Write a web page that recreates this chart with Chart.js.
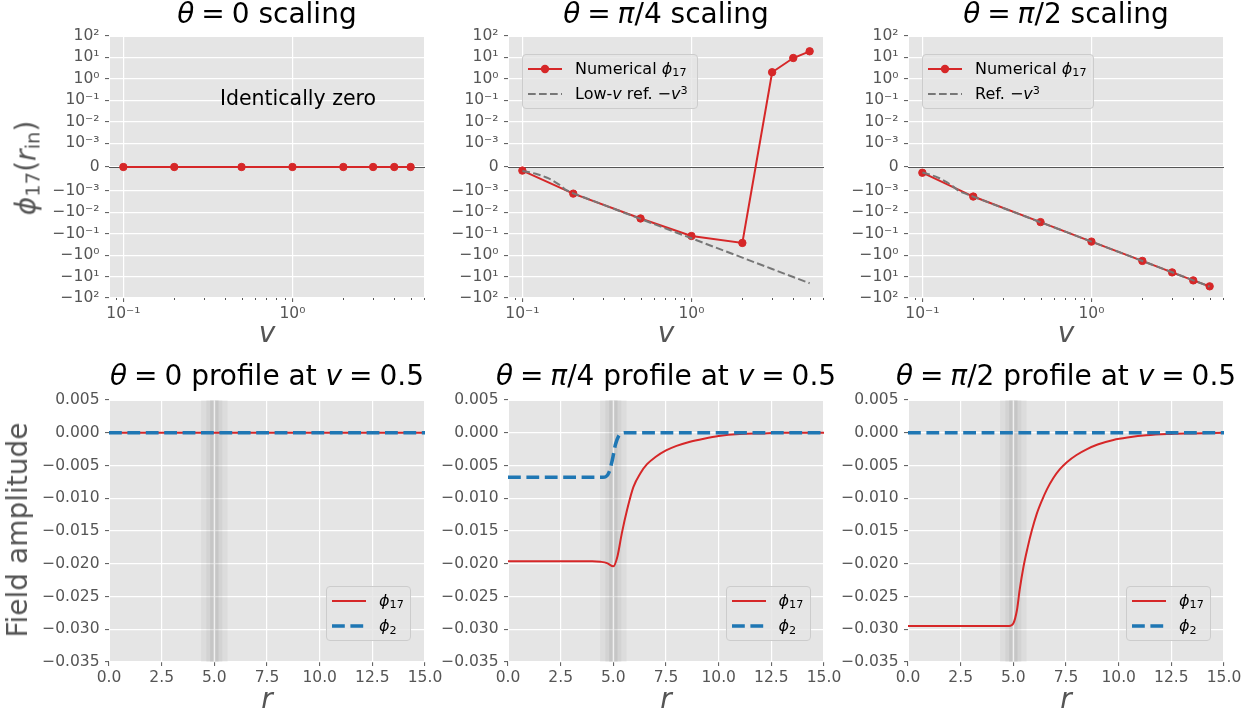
<!DOCTYPE html>
<html><head><meta charset="utf-8">
<script src="https://cdn.jsdelivr.net/npm/chart.js@4.4.1/dist/chart.umd.min.js"></script>
<style>
html,body{margin:0;padding:0;background:#fff;}
#wrap{position:relative;width:1256px;height:717px;overflow:hidden;font-family:"DejaVu Sans",sans-serif;background:#fff;}
#wrap canvas{position:absolute;}
.txt{position:absolute;white-space:nowrap;}
.eq{margin:0 -2px;}
.sub{font-size:0.7em;position:relative;top:0.22em;}
.sup{font-size:0.7em;position:relative;top:-0.45em;}
.lg{position:absolute;box-sizing:border-box;background:rgba(229,229,229,0.8);border:1px solid #cccccc;border-radius:4px;}
.lg svg{position:absolute;overflow:visible;}
.lg .lt{position:absolute;font-size:16px;line-height:16px;color:#000;white-space:nowrap;}
</style></head><body><div id="wrap"></div>
<script>
// ---------------- DATA ----------------
const vValues = [0.1, 0.2, 0.5, 1, 2, 3, 4, 5];
const phi17Theta0   = [0, 0, 0, 0, 0, 0, 0, 0];
const phi17ThetaPi4 = [-0.00015, -0.00135, -0.0195, -0.128, -0.27, 2.04, 9.4, 19.3];
const phi17ThetaPi2 = [-0.00024, -0.00185, -0.0288, -0.234, -1.86, -6.4, -15.1, -28.6];

const refV   = [0.1, 0.11, 0.12, 0.13, 0.14, 0.15, 0.165, 0.18, 0.2, 0.25, 0.3, 0.4, 0.5, 0.7, 1, 1.5, 2, 3, 4, 5];
const refPi4 = [-0.000164, -0.000218, -0.000283, -0.00036, -0.00045, -0.000554, -0.000737, -0.000956, -0.00131, -0.00256, -0.00443, -0.0105, -0.0205, -0.0563, -0.164, -0.554, -1.31, -4.43, -10.5, -20.5];
const refPi2 = [-0.000234, -0.000311, -0.000404, -0.000514, -0.000642, -0.00079, -0.00105, -0.00136, -0.00187, -0.00366, -0.00632, -0.015, -0.0293, -0.0803, -0.234, -0.79, -1.87, -6.32, -15.0, -29.3];

const symlogTickValues = [100, 10, 1, 0.1, 0.01, 0.001, 0, -0.001, -0.01, -0.1, -1, -10, -100];
const symlogTickLabels = ['10²', '10¹', '10⁰', '10⁻¹', '10⁻²', '10⁻³', '0', '−10⁻³', '−10⁻²', '−10⁻¹', '−10⁰', '−10¹', '−10²'];
const logTickValues = [0.1, 1];
const logTickLabels = ['10⁻¹', '10⁰'];
const logMinorTicks = [0.09, 0.2, 0.3, 0.4, 0.5, 0.6, 0.7, 0.8, 0.9, 2, 3, 4, 5, 6];

const rFlat = [0, 15];
const zeroFlat = [0, 0];

const rPi4Phi17 = [0, 2, 4, 4.4, 4.7, 5.0, 5.2, 5.4, 5.65, 5.95, 6.3, 6.6, 7.0, 7.5, 8.0, 8.6, 9.3, 10, 11, 12, 13, 15];
const phi17ProfPi4 = [-0.0196, -0.0196, -0.0196, -0.0197, -0.0199, -0.0204, -0.0188, -0.0154, -0.0118, -0.0083, -0.0061, -0.0048, -0.0037, -0.0027, -0.002, -0.0014, -0.0009, -0.0005, -0.0002, -0.0001, 0, 0];
const rPi4Phi2 = [0, 4.5, 4.65, 4.8, 4.95, 5.1, 5.25, 5.4, 5.6, 6, 15];
const phi2ProfPi4 = [-0.0068, -0.0068, -0.0067, -0.006, -0.0042, -0.0018, -0.0005, -0.0001, 0, 0, 0];

const rPi2Phi17 = [0, 4.8, 5.0, 5.17, 5.3, 5.48, 5.68, 5.88, 6.1, 6.35, 6.6, 6.9, 7.2, 7.54, 8, 8.5, 9, 9.75, 10.5, 11.3, 12.3, 13.5, 15];
const phi17ProfPi2 = [-0.0295, -0.0295, -0.0291, -0.0271, -0.024, -0.0205, -0.0175, -0.0149, -0.0125, -0.0104, -0.0086, -0.0069, -0.0056, -0.0045, -0.0034, -0.0025, -0.0018, -0.0011, -0.0007, -0.0004, -0.0002, -0.0001, 0];

const wallCenter = 5.0;

// ---------------- STYLE ----------------
const RED = '#d62728', BLUE = '#1f77b4', GRAY = '#777777';
const wrap = document.getElementById('wrap');
const tickFont = {family: 'DejaVu Sans', size: 15.5};
const LINTHRESH = 1e-3, LINADJ = 1 / (1 - 1 / 10);
function symlog(y) {
  const a = Math.abs(y);
  if (a <= LINTHRESH) return y / LINTHRESH * LINADJ;
  return Math.sign(y) * (LINADJ + Math.log10(a / LINTHRESH));
}
const symMax = symlog(100);
const lmin = Math.log10(Math.min(...vValues)), lmax = Math.log10(Math.max(...vValues));
const xLogMin = Math.pow(10, lmin - 0.05 * (lmax - lmin));
const xLogMax = Math.pow(10, lmax + 0.05 * (lmax - lmin));

const bgPlugin = {
  id: 'bg',
  beforeDraw(chart) {
    const a = chart.chartArea, c = chart.ctx;
    c.save(); c.fillStyle = '#E5E5E5'; c.fillRect(a.left, a.top, a.right - a.left, a.bottom - a.top); c.restore();
  },
  beforeDatasetsDraw(chart) {
    const a = chart.chartArea, c = chart.ctx;
    c.save(); c.strokeStyle = '#ffffff'; c.lineWidth = 1;
    c.strokeRect(a.left + 0.5, a.top + 0.5, a.right - a.left - 1, a.bottom - a.top - 1); c.restore();
  }
};
const zeroLinePlugin = {
  id: 'zl',
  beforeDatasetsDraw(chart) {
    const a = chart.chartArea, c = chart.ctx, y = Math.round(chart.scales.y.getPixelForValue(0)) + 0.5;
    c.save(); c.strokeStyle = '#555555'; c.lineWidth = 1; c.beginPath(); c.moveTo(a.left, y); c.lineTo(a.right, y); c.stroke(); c.restore();
  },
  afterDraw(chart) {
    const a = chart.chartArea, c = chart.ctx, sx = chart.scales.x;
    c.save(); c.strokeStyle = '#555555'; c.lineWidth = 1;
    logMinorTicks.forEach(v => {
      if (v < xLogMin || v > xLogMax) return;
      const x = Math.round(sx.getPixelForValue(v)) + 0.5;
      c.beginPath(); c.moveTo(x, a.bottom); c.lineTo(x, a.bottom + 2); c.stroke();
    });
    c.restore();
  }
};
const bandPlugin = {
  id: 'bands',
  beforeDatasetsDraw(chart) {
    const a = chart.chartArea, c = chart.ctx, sx = chart.scales.x;
    const bands = [[0.63, 'rgba(0,0,0,0.035)'], [0.38, 'rgba(0,0,0,0.04)'], [0.2, 'rgba(0,0,0,0.06)']];
    c.save();
    bands.forEach(([hw, col]) => {
      const x0 = sx.getPixelForValue(wallCenter - hw), x1 = sx.getPixelForValue(wallCenter + hw);
      c.fillStyle = col; c.fillRect(x0, a.top, x1 - x0, a.bottom - a.top);
    });
    const xc = sx.getPixelForValue(wallCenter);
    c.strokeStyle = 'rgba(255,255,255,0.55)'; c.lineWidth = 1.5;
    c.beginPath(); c.moveTo(xc, a.top); c.lineTo(xc, a.bottom); c.stroke();
    c.restore();
  }
};

function baseScale() {
  return {
    grid: {color: '#ffffff', lineWidth: 1.2, tickColor: '#555555', tickLength: 4, tickWidth: 1},
    border: {display: false},
    ticks: {color: '#555555', font: tickFont, autoSkip: false, maxRotation: 0, minRotation: 0}
  };
}

function panel(o) {
  const PADL = 100, PADT = 12, PADR = 24, PADB = 40;
  const w = o.R - o.L + PADL + PADR, h = o.B - o.T + PADT + PADB;
  const cv = document.createElement('canvas');
  cv.width = w; cv.height = h;
  cv.style.left = (o.L - PADL) + 'px'; cv.style.top = (o.T - PADT) + 'px';
  cv.style.width = w + 'px'; cv.style.height = h + 'px';
  wrap.appendChild(cv);
  o.x.afterFit = s => { s.height = PADB; s.paddingLeft = 0; s.paddingRight = 0; };
  o.y.afterFit = s => { s.width = PADL; s.paddingTop = 0; s.paddingBottom = 0; };
  new Chart(cv, {
    type: 'line',
    data: {datasets: o.datasets},
    options: {
      responsive: false, animation: false, devicePixelRatio: 1,
      layout: {padding: {left: 0, top: PADT, right: PADR, bottom: 0}},
      plugins: {legend: {display: false}, tooltip: {enabled: false}, title: {display: false}},
      scales: {x: o.x, y: o.y}
    },
    plugins: [bgPlugin].concat(o.plugins)
  });
}

function topX() {
  const s = baseScale();
  s.type = 'logarithmic'; s.min = xLogMin; s.max = xLogMax;
  s.afterBuildTicks = sc => { sc.ticks = logTickValues.map(v => ({value: v})); };
  s.ticks.callback = (v, i) => logTickLabels[i];
  s.ticks.padding = 3;
  return s;
}
function topY() {
  const s = baseScale();
  s.type = 'linear'; s.min = -symMax; s.max = symMax;
  s.afterBuildTicks = sc => { sc.ticks = symlogTickValues.map(v => ({value: symlog(v)})); };
  s.ticks.callback = (v, i) => symlogTickLabels[i];
  s.ticks.padding = 5.5;
  return s;
}
function botX() {
  const s = baseScale();
  s.type = 'linear'; s.min = 0; s.max = 15; s.ticks.stepSize = 2.5;
  s.ticks.callback = v => v.toFixed(1);
  s.ticks.padding = 3;
  return s;
}
function botY() {
  const s = baseScale();
  s.type = 'linear'; s.min = -0.035; s.max = 0.005; s.ticks.stepSize = 0.005;
  s.ticks.callback = v => (Math.abs(v) < 1e-9 ? 0 : v).toFixed(3).replace('-', '−');
  s.ticks.padding = 5.5;
  return s;
}
function numDs(vals) {
  return {data: vValues.map((v, i) => ({x: v, y: symlog(vals[i])})), borderColor: RED, backgroundColor: RED,
    borderWidth: 2, pointRadius: 3.7, pointBorderWidth: 1, pointBackgroundColor: RED, pointBorderColor: RED, tension: 0, order: 1};
}
function refDs(vals) {
  return {data: refV.map((v, i) => ({x: v, y: symlog(vals[i])})), borderColor: GRAY, borderWidth: 2,
    borderDash: [7.7, 3.3], pointRadius: 0, tension: 0, order: 0};
}
function profDs(rs, vals, color, dashed) {
  return {data: rs.map((r, i) => ({x: r, y: vals[i]})), borderColor: color, borderWidth: dashed ? 3.5 : 2,
    borderDash: dashed ? [12.8, 5.6] : [], pointRadius: 0, cubicInterpolationMode: 'monotone', order: dashed ? 0 : 1};
}

const TOP = {T: 36, B: 298}, BOT = {T: 400, B: 662};
const COLS = [{L: 109, R: 425}, {L: 508, R: 824}, {L: 908, R: 1224}];

panel({L: COLS[0].L, R: COLS[0].R, T: TOP.T, B: TOP.B, x: topX(), y: topY(), plugins: [zeroLinePlugin], datasets: [numDs(phi17Theta0)]});
panel({L: COLS[1].L, R: COLS[1].R, T: TOP.T, B: TOP.B, x: topX(), y: topY(), plugins: [zeroLinePlugin], datasets: [numDs(phi17ThetaPi4), refDs(refPi4)]});
panel({L: COLS[2].L, R: COLS[2].R, T: TOP.T, B: TOP.B, x: topX(), y: topY(), plugins: [zeroLinePlugin], datasets: [numDs(phi17ThetaPi2), refDs(refPi2)]});
panel({L: COLS[0].L, R: COLS[0].R, T: BOT.T, B: BOT.B, x: botX(), y: botY(), plugins: [bandPlugin], datasets: [profDs(rFlat, zeroFlat, RED, false), profDs(rFlat, zeroFlat, BLUE, true)]});
panel({L: COLS[1].L, R: COLS[1].R, T: BOT.T, B: BOT.B, x: botX(), y: botY(), plugins: [bandPlugin], datasets: [profDs(rPi4Phi17, phi17ProfPi4, RED, false), profDs(rPi4Phi2, phi2ProfPi4, BLUE, true)]});
panel({L: COLS[2].L, R: COLS[2].R, T: BOT.T, B: BOT.B, x: botX(), y: botY(), plugins: [bandPlugin], datasets: [profDs(rPi2Phi17, phi17ProfPi2, RED, false), profDs(rFlat, zeroFlat, BLUE, true)]});

// ---------------- TEXT ----------------
function addText(html, cx, baseline, size, color) {
  const d = document.createElement('div'); d.className = 'txt'; d.innerHTML = html;
  d.style.fontSize = size + 'px'; d.style.lineHeight = size + 'px'; d.style.color = color;
  d.style.left = cx + 'px'; d.style.top = (baseline - 0.846 * size) + 'px'; d.style.transform = 'translateX(-50%)';
  wrap.appendChild(d);
}
function addVText(html, cx, cy, size, color) {
  const d = document.createElement('div'); d.className = 'txt'; d.innerHTML = html;
  d.style.fontSize = size + 'px'; d.style.lineHeight = size + 'px'; d.style.color = color;
  d.style.left = cx + 'px'; d.style.top = cy + 'px'; d.style.transform = 'translate(-50%,-50%) rotate(-90deg)';
  wrap.appendChild(d);
}
const cx = c => (c.L + c.R) / 2;
const EQ = ' <span class="eq">=</span> ';
addText('<i>θ</i>' + EQ + '0 scaling', cx(COLS[0]), 24, 28, '#000');
addText('<i>θ</i>' + EQ + '<i>π</i>/4 scaling', cx(COLS[1]), 24, 28, '#000');
addText('<i>θ</i>' + EQ + '<i>π</i>/2 scaling', cx(COLS[2]), 24, 28, '#000');
addText('<i>θ</i>' + EQ + '0 profile at <i>v</i>' + EQ + '0.5', cx(COLS[0]), 386, 28, '#000');
addText('<i>θ</i>' + EQ + '<i>π</i>/4 profile at <i>v</i>' + EQ + '0.5', cx(COLS[1]), 386, 28, '#000');
addText('<i>θ</i>' + EQ + '<i>π</i>/2 profile at <i>v</i>' + EQ + '0.5', cx(COLS[2]), 386, 28, '#000');
COLS.forEach(c => { addText('<i>v</i>', cx(c), 343, 28, '#555'); addText('<i>r</i>', cx(c), 709, 28, '#555'); });
addVText('<i>ϕ</i><span class="sub">17</span>(<i>r</i><span class="sub">in</span>)', 28, 168, 28, '#555');
addVText('Field amplitude', 18, 530, 28, '#555');
addText('Identically zero', 298, 105, 20.5, '#000');

// ---------------- LEGENDS ----------------
function sample(kind) {
  if (kind === 'num') return '<svg width="34" height="10"><line x1="0" y1="5" x2="34" y2="5" stroke="' + RED + '" stroke-width="2"/><circle cx="17" cy="5" r="4.2" fill="' + RED + '"/></svg>';
  if (kind === 'ref') return '<svg width="34" height="10"><line x1="0" y1="5" x2="34" y2="5" stroke="' + GRAY + '" stroke-width="2" stroke-dasharray="7.7 3.3"/></svg>';
  if (kind === 'red') return '<svg width="34" height="10"><line x1="0" y1="5" x2="34" y2="5" stroke="' + RED + '" stroke-width="2"/></svg>';
  return '<svg width="34" height="10"><line x1="0" y1="5" x2="34" y2="5" stroke="' + BLUE + '" stroke-width="3.5" stroke-dasharray="12.8 5.6"/></svg>';
}
function addLegend(x, y, w, h, rows) {
  const d = document.createElement('div'); d.className = 'lg';
  d.style.left = x + 'px'; d.style.top = y + 'px'; d.style.width = w + 'px'; d.style.height = h + 'px';
  let inner = '';
  rows.forEach((r, i) => {
    const cy = 13.5 + i * 25.5;
    inner += '<div style="position:absolute;left:5px;top:' + (cy - 5) + 'px;width:34px;height:10px">' + sample(r.kind) + '</div>';
    inner += '<div class="lt" style="left:52px;top:' + (cy - 7.9) + 'px">' + r.html + '</div>';
  });
  d.innerHTML = inner;
  wrap.appendChild(d);
}
addLegend(522, 54, 176, 55, [{kind: 'num', html: 'Numerical <i>ϕ</i><span class="sub">17</span>'}, {kind: 'ref', html: 'Low-<i>v</i> ref. −<i>v</i><span class="sup">3</span>'}]);
addLegend(922, 54, 172, 55, [{kind: 'num', html: 'Numerical <i>ϕ</i><span class="sub">17</span>'}, {kind: 'ref', html: 'Ref. −<i>v</i><span class="sup">3</span>'}]);
[326, 725.5, 1126].forEach(x => addLegend(x, 586, 85, 55, [{kind: 'red', html: '<i>ϕ</i><span class="sub">17</span>'}, {kind: 'blue', html: '<i>ϕ</i><span class="sub">2</span>'}]));
</script></body></html>
